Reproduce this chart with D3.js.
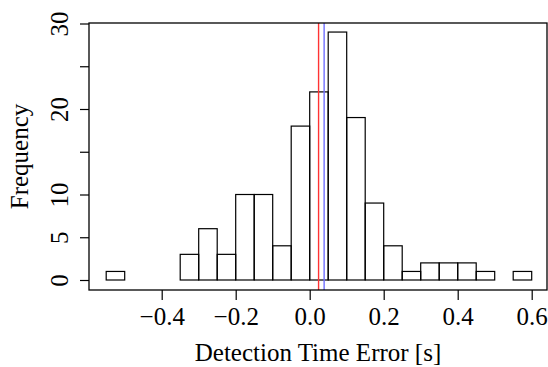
<!DOCTYPE html>
<html>
<head>
<meta charset="utf-8">
<script src="https://cdn.jsdelivr.net/npm/d3@7"></script>
<style>
  body { margin: 0; background: #fff; }
  svg text { font-family: "Liberation Serif", "DejaVu Serif", serif; fill: #000; }
</style>
</head>
<body>
<div id="chart"></div>
<script>
// histogram bins (lower edge) and counts, bin width 0.05
const binStarts = [-0.55, -0.50, -0.45, -0.40, -0.35, -0.30, -0.25, -0.20, -0.15, -0.10, -0.05,
  0.00, 0.05, 0.10, 0.15, 0.20, 0.25, 0.30, 0.35, 0.40, 0.45, 0.50, 0.55];
const counts = [1, 0, 0, 0, 3, 6, 3, 10, 10, 4, 18, 22, 29, 19, 9, 4, 1, 2, 2, 2, 1, 0, 1];
const binWidth = 0.05;
const xTicks = [-0.4, -0.2, 0.0, 0.2, 0.4, 0.6];
const yTicks = [0, 5, 10, 15, 20, 25, 30];
const yLabels = [0, 5, 10, 20, 30];
const redLine = 0.024;
const blueLine = 0.039;

const W = 548, H = 367;
const box = { left: 89, right: 547, top: 23, bottom: 290 };

const svg = d3.select("#chart").append("svg")
  .attr("width", W).attr("height", H);

const x = d3.scaleLinear().domain([-0.4, 0.6]).range([161.7, 531.7]);
const y = d3.scaleLinear().domain([0, 30]).range([280, 23.5]);

// bars
svg.append("g").selectAll("rect")
  .data(counts.map((c, i) => ({ x0: binStarts[i], c })))
  .join("rect")
  .attr("x", d => x(d.x0))
  .attr("y", d => y(d.c))
  .attr("width", d => x(d.x0 + binWidth) - x(d.x0))
  .attr("height", d => y(0) - y(d.c))
  .attr("fill", "none")
  .attr("stroke", "#000")
  .attr("stroke-width", 1.2);

// vertical reference lines
svg.append("line")
  .attr("x1", x(redLine)).attr("x2", x(redLine))
  .attr("y1", box.top).attr("y2", box.bottom)
  .attr("stroke", "#ff3333").attr("stroke-width", 1.4);
svg.append("line")
  .attr("x1", x(blueLine)).attr("x2", x(blueLine))
  .attr("y1", box.top).attr("y2", box.bottom)
  .attr("stroke", "#7070ff").attr("stroke-width", 1.4);

// frame
svg.append("rect")
  .attr("x", box.left).attr("y", box.top)
  .attr("width", box.right - box.left).attr("height", box.bottom - box.top)
  .attr("fill", "none").attr("stroke", "#000").attr("stroke-width", 1.3);

// x axis
const xAxis = d3.axisBottom(x).tickValues(xTicks).tickSize(10)
  .tickFormat(d => d3.format(".1f")(d).replace("-", "\u2212"));
const gx = svg.append("g").attr("transform", `translate(0,${box.bottom})`).call(xAxis);
gx.select(".domain").remove();
gx.selectAll("line").attr("stroke", "#000").attr("stroke-width", 1.2);
gx.selectAll("text").attr("font-size", 25).attr("y", 35).attr("dy", 0);

// y axis
const yAxis = d3.axisLeft(y).tickValues(yTicks).tickSize(9)
  .tickFormat(d => yLabels.includes(d) ? d : "");
const gy = svg.append("g").attr("transform", `translate(${box.left},0)`).call(yAxis);
gy.select(".domain").remove();
gy.selectAll("line").attr("stroke", "#000").attr("stroke-width", 1.2);
gy.selectAll("text")
  .attr("font-size", 25)
  .attr("text-anchor", "middle")
  .attr("x", 0).attr("dy", 0)
  .attr("transform", "translate(-21,0) rotate(-90)");

// titles
svg.append("text")
  .attr("x", (box.left + box.right) / 2).attr("y", 361)
  .attr("text-anchor", "middle").attr("font-size", 25)
  .text("Detection Time Error [s]");
svg.append("text")
  .attr("transform", `translate(28,${(box.top + box.bottom) / 2}) rotate(-90)`)
  .attr("text-anchor", "middle").attr("font-size", 25)
  .text("Frequency");
</script>
</body>
</html>
